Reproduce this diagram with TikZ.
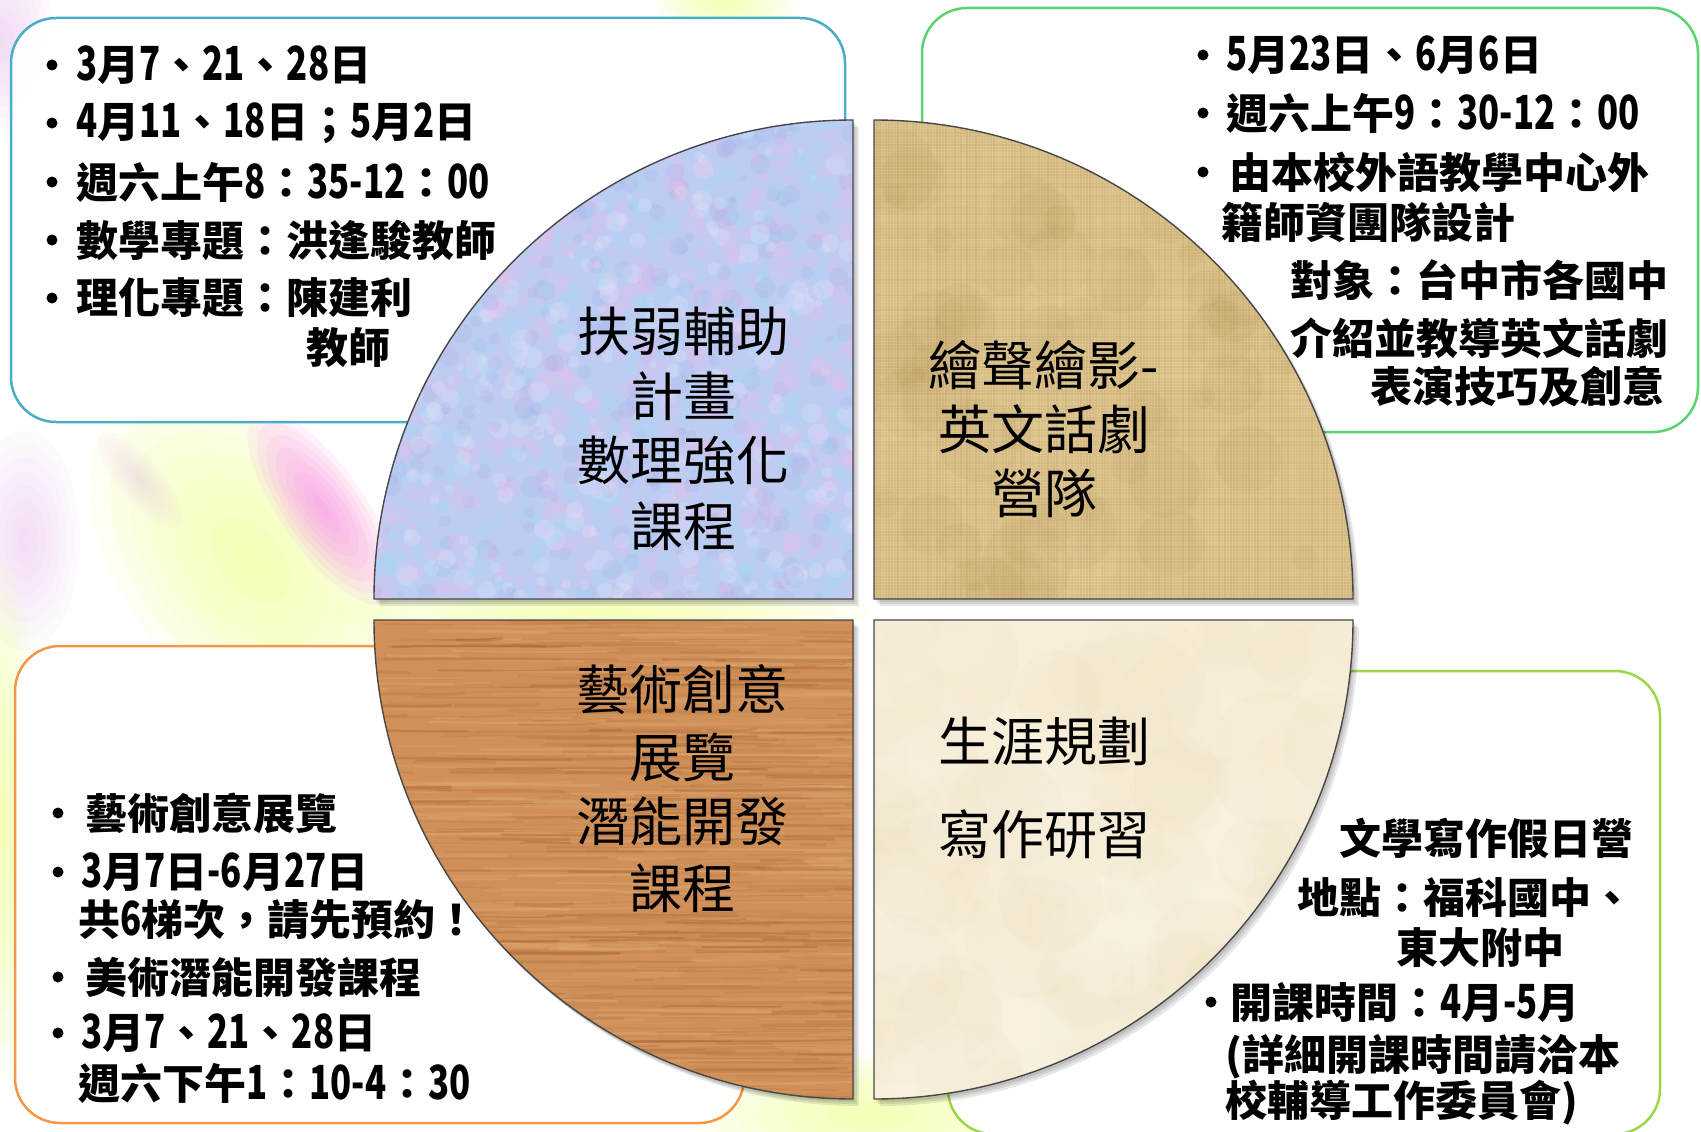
\documentclass[tikz,border=0pt]{standalone}
\usepackage{fontspec}
\newfontfamily\cjk{Noto Sans CJK TC}
\newfontfamily\digf{Noto Sans CJK TC}[FakeStretch=0.74]
\newcommand\dg[1]{{\digf\bfseries\fontsize{47}{50}\selectfont #1}}
\definecolor{bBlue}{RGB}{75,172,198}
\definecolor{bGreen}{RGB}{90,212,110}
\definecolor{bOrange}{RGB}{247,150,70}
\definecolor{bLime}{RGB}{155,215,70}
\definecolor{bgPink}{RGB}{255,130,245}
\definecolor{bgYellow}{RGB}{240,255,140}
\definecolor{bgLav}{RGB}{235,190,240}
\definecolor{tlBase}{RGB}{190,204,242}
\definecolor{tlA}{RGB}{236,188,236}
\definecolor{tlB}{RGB}{165,218,245}
\definecolor{tlC}{RGB}{170,178,232}
\definecolor{tlD}{RGB}{230,230,250}
\definecolor{trBase}{RGB}{224,199,145}
\definecolor{trDark}{RGB}{175,145,85}
\definecolor{trLight}{RGB}{242,226,178}
\definecolor{wdBase}{RGB}{208,144,88}
\definecolor{wdDark}{RGB}{160,96,48}
\definecolor{wdMid}{RGB}{185,120,66}
\definecolor{wdLight}{RGB}{228,172,118}
\definecolor{pcBase}{RGB}{248,237,214}
\definecolor{pcLight}{RGB}{253,248,236}
\definecolor{pcDark}{RGB}{238,224,192}
\pgfmathdeclarerandomlist{tlcols}{{tlA}{tlB}{tlC}{tlD}{tlA}{tlB}}
\pgfmathdeclarerandomlist{wdcols}{{wdDark}{wdMid}{wdLight}{wdLight}{wdMid}}
\pgfmathdeclarerandomlist{trcols}{{trDark}{trLight}}
\pgfmathdeclarerandomlist{pccols}{{pcLight}{pcDark}}
\newcommand\softblob[7]{%
  \foreach \k in {1,...,8}{%
    \fill[#6,opacity=#7,rotate around={#5:(#1,#2)}] (#1,#2) ellipse ({#3*\k/8} and {#4*\k/8});
  }%
}
\newcommand\quadTL[1]{\path[#1] (853,599) -- (374,599) arc[start angle=180,end angle=270,radius=479] -- cycle;}
\newcommand\quadTR[1]{\path[#1] (874,599) -- (874,120) arc[start angle=270,end angle=360,radius=479] -- cycle;}
\newcommand\quadBL[1]{\path[#1] (853,620) -- (374,620) arc[start angle=180,end angle=90,radius=479] -- cycle;}
\newcommand\quadBR[1]{\path[#1] (874,620) -- (1353,620) arc[start angle=0,end angle=90,radius=479] -- cycle;}
\begin{document}
\begin{tikzpicture}[x=1pt,y=-1pt,
  bt/.style={anchor=west,inner sep=0pt,text=black,font=\cjk\bfseries\fontsize{42}{50}\selectfont},
  bu/.style={circle,fill=black,inner sep=0pt,minimum size=11pt},
  tt/.style={anchor=center,inner sep=0pt,text=black,font=\cjk\fontsize{53}{60}\selectfont},
  infobox/.style={line width=2.5pt,rounded corners=45pt,fill=white,fill opacity=0.93},
  quadedge/.style={draw=black!72,line width=1.4pt},
  qshadow/.style={fill=black,opacity=0.09}]
\useasboundingbox (0,0) rectangle (1701,1132);
\fill[white] (0,0) rectangle (1701,1132);
% ---------- pastel background ----------
\softblob{250}{560}{200}{125}{-50}{bgYellow}{0.11}
\softblob{322}{508}{115}{42}{-55}{bgPink}{0.1}
\softblob{25}{540}{55}{110}{0}{bgLav}{0.07}
\softblob{0}{40}{55}{90}{0}{bgLav}{0.08}
\softblob{725}{5}{70}{25}{0}{bgYellow}{0.1}
\softblob{870}{1115}{180}{60}{0}{bgYellow}{0.11}
\softblob{600}{612}{270}{28}{0}{bgYellow}{0.1}
\softblob{0}{820}{40}{260}{0}{bgYellow}{0.1}
\softblob{140}{480}{60}{22}{-50}{bgLav}{0.05}
% ---------- information boxes ----------
\draw[infobox,draw=bBlue] (11,18) rectangle (845,422);
\draw[infobox,draw=bGreen] (922,8) rectangle (1698,432);
\draw[infobox,draw=bOrange] (15,646) rectangle (744,1123);
\draw[infobox,draw=bLime] (948,671) rectangle (1660,1134);
% ---------- shadows ----------
\foreach \s in {2,4,6}{
  \begin{scope}[shift={(\s,\s+1)}]
    \quadTL{qshadow}\quadTR{qshadow}\quadBL{qshadow}\quadBR{qshadow}
  \end{scope}
}
% ---------- TL: mottled blue ----------
\begin{scope}
  \quadTL{clip}
  \fill[tlBase] (370,115) rectangle (860,605);
  \pgfmathsetseed{11}
  \foreach \i in {1,...,1800}{
    \pgfmathsetmacro\xx{370+490*rnd}
    \pgfmathsetmacro\yy{115+490*rnd}
    \pgfmathsetmacro\rr{3+8*rnd}
    \pgfmathrandomitem{\cc}{tlcols}
    \fill[\cc,opacity=0.25] (\xx,\yy) circle (\rr);
  }
\end{scope}
% ---------- TR: burlap ----------
\begin{scope}
  \quadTR{clip}
  \fill[trBase] (870,115) rectangle (1360,605);
  \pgfmathsetseed{5}
  \foreach \i in {1,...,120}{
    \pgfmathsetmacro\xx{870+490*rnd}
    \pgfmathsetmacro\yy{115+490*rnd}
    \pgfmathsetmacro\rr{10+35*rnd}
    \pgfmathrandomitem{\cc}{trcols}
    \fill[\cc,opacity=0.09] (\xx,\yy) circle (\rr);
  }
  \foreach \x in {874,877,...,1356}{
    \pgfmathsetmacro\oo{0.03+0.2*rnd}
    \draw[trDark,opacity=\oo,line width=1.3pt] (\x,115) -- (\x,605);
  }
  \foreach \y in {118,121,...,603}{
    \pgfmathsetmacro\oo{0.03+0.16*rnd}
    \draw[trDark,opacity=\oo,line width=1.2pt] (870,\y) -- (1360,\y);
  }
\end{scope}
% ---------- BL: wood ----------
\begin{scope}
  \quadBL{clip}
  \fill[wdBase] (370,615) rectangle (860,1105);
  \pgfmathsetseed{23}
  \foreach \i in {1,...,800}{
    \pgfmathsetmacro\xx{330+530*rnd}
    \pgfmathsetmacro\yy{615+490*rnd}
    \pgfmathsetmacro\ll{40+220*rnd}
    \pgfmathsetmacro\ya{\yy+2*rand}
    \pgfmathsetmacro\yb{\yy+2*rand}
    \pgfmathsetmacro\yc{\yy+1.5*rand}
    \pgfmathsetmacro\oo{0.12+0.3*rnd}
    \pgfmathsetmacro\ww{0.8+2.6*rnd}
    \pgfmathrandomitem{\cc}{wdcols}
    \draw[\cc,opacity=\oo,line width=\ww pt,line cap=round] (\xx,\yy) .. controls ({\xx+\ll/3},\ya) and ({\xx+2*\ll/3},\yb) .. ({\xx+\ll},\yc);
  }
\end{scope}
% ---------- BR: parchment ----------
\begin{scope}
  \quadBR{clip}
  \fill[pcBase] (870,615) rectangle (1360,1105);
  \pgfmathsetseed{3}
  \foreach \i in {1,...,160}{
    \pgfmathsetmacro\xx{870+490*rnd}
    \pgfmathsetmacro\yy{615+490*rnd}
    \pgfmathsetmacro\rr{20+50*rnd}
    \pgfmathrandomitem{\cc}{pccols}
    \fill[\cc,opacity=0.14] (\xx,\yy) circle (\rr);
  }
\end{scope}
% ---------- outlines ----------
\quadTL{quadedge}\quadTR{quadedge}\quadBL{quadedge}\quadBR{quadedge}
% ---------- quadrant titles ----------
\node[tt] (tl1) at (683,331) {扶弱輔助};
\node[tt] (tl2) at (683,396) {計畫};
\node[tt] (tl3) at (683,461) {數理強化};
\node[tt] (tl4) at (683,526) {課程};
\node[tt] (tr1) at (1044,365) {繪聲繪影-};
\node[tt] (tr2) at (1044,429) {英文話劇};
\node[tt] (tr3) at (1044,493) {營隊};
\node[tt] (bl1) at (682,690) {藝術創意};
\node[tt] (bl2) at (682,757) {展覽};
\node[tt] (bl3) at (682,821) {潛能開發};
\node[tt] (bl4) at (682,888) {課程};
\node[tt] (br1) at (1044,741) {生涯規劃};
\node[tt] (br2) at (1044,834) {寫作研習};
% ---------- box 1 ----------
\node[bu] (a1u1) at (52,65) {};
\node[bt] (a1l1) at (76,65) {\dg{3}月\dg{7}、\dg{21}、\dg{28}日};
\node[bu] (a1u2) at (52,123) {};
\node[bt] (a1l2) at (76,123) {\dg{4}月\dg{11}、\dg{18}日；\dg{5}月\dg{2}日};
\node[bu] (a1u3) at (52,182) {};
\node[bt] (a1l3) at (76,182) {週六上午\dg{8}：\dg{35-12}：\dg{00}};
\node[bu] (a1u4) at (52,240) {};
\node[bt] (a1l4) at (76,240) {數學專題：洪逢駿教師};
\node[bu] (a1u5) at (52,298) {};
\node[bt] (a1l5) at (76,298) {理化專題：陳建利};
\node[bt] (a1l6) at (306,348) {教師};
% ---------- box 2 ----------
\node[bu] (a2u1) at (1203,55) {};
\node[bt] (a2l1) at (1226,55) {\dg{5}月\dg{23}日、\dg{6}月\dg{6}日};
\node[bu] (a2u2) at (1203,113) {};
\node[bt] (a2l2) at (1226,113) {週六上午\dg{9}：\dg{30-12}：\dg{00}};
\node[bu] (a2u3) at (1203,172) {};
\node[bt] (a2l3) at (1229,172) {由本校外語教學中心外};
\node[bt] (a2l4) at (1221,222) {籍師資團隊設計};
\node[bt] (a2l5) at (1290,280) {對象：台中市各國中};
\node[bt] (a2l6) at (1290,338) {介紹並教導英文話劇};
\node[bt] (a2l7) at (1370,387) {表演技巧及創意};
% ---------- box 3 ----------
\node[bu] (a3u1) at (58,813) {};
\node[bt] (a3l1) at (85,813) {藝術創意展覽};
\node[bu] (a3u2) at (58,872) {};
\node[bt] (a3l2) at (81,872) {\dg{3}月\dg{7}日\dg{-6}月\dg{27}日};
\node[bt] (a3l3) at (78,920) {共\dg{6}梯次，請先預約！};
\node[bu] (a3u4) at (58,977) {};
\node[bt] (a3l4) at (85,977) {美術潛能開發課程};
\node[bu] (a3u5) at (58,1033) {};
\node[bt] (a3l5) at (81,1033) {\dg{3}月\dg{7}、\dg{21}、\dg{28}日};
\node[bt] (a3l6) at (78,1083) {週六下午\dg{1}：\dg{10-4}：\dg{30}};
% ---------- box 4 ----------
\node[bt] (a4l1) at (1339,838) {文學寫作假日營};
\node[bt] (a4l2) at (1297,898) {地點：福科國中、};
\node[bt] (a4l3) at (1396,948) {東大附中};
\node[bu] (a4u4) at (1211,1002) {};
\node[bt] (a4l4) at (1230,1002) {開課時間：\dg{4}月\dg{-5}月};
\node[bt] (a4l5) at (1225,1057) {(詳細開課時間請洽本};
\node[bt] (a4l6) at (1225,1103) {校輔導工作委員會)};
\end{tikzpicture}
\end{document}
